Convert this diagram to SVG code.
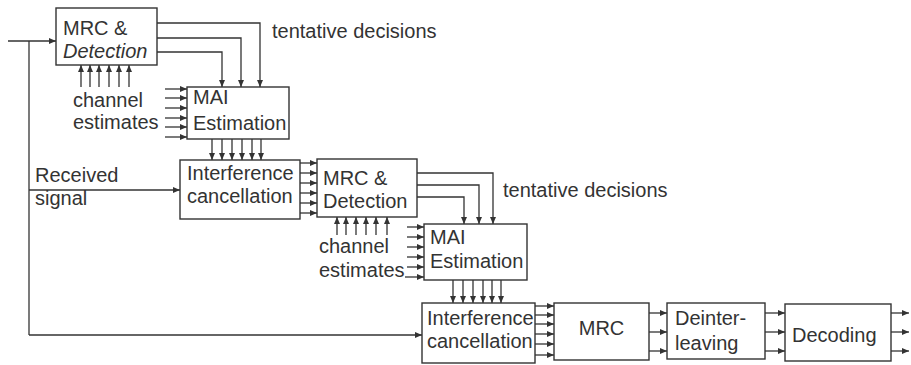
<svg xmlns="http://www.w3.org/2000/svg" width="911" height="365" viewBox="0 0 911 365">
<style>
.box{fill:#fff;stroke:#333;stroke-width:1.4}
.ln{fill:none;stroke:#333;stroke-width:1.3}
.ar{fill:none;stroke:#333;stroke-width:1.3;marker-end:url(#ah)}
text{font-family:"Liberation Sans",Arial,sans-serif;font-size:20px;fill:#333}
</style>
<defs>
<marker id="ah" markerUnits="userSpaceOnUse" markerWidth="8" markerHeight="6" refX="7" refY="3" orient="auto">
<path d="M0,0 L7,3 L0,6 z" fill="#333"/>
</marker>
</defs>
<rect width="911" height="365" fill="#fff"/>
<g id="connectors">
<path class="ar" d="M8,41 H56"/>
<path class="ln" d="M29,41 V335"/>
<path class="ar" d="M29,190 H180"/>
<path class="ar" d="M29,335 H422"/>
<path class="ar" d="M157,23 H260 V87"/>
<path class="ar" d="M157,38 H241 V87"/>
<path class="ar" d="M157,52 H222 V87"/>
<path class="ar" d="M81,87 V65"/><path class="ar" d="M90,87 V65"/><path class="ar" d="M99,87 V65"/><path class="ar" d="M109,87 V65"/><path class="ar" d="M119,87 V65"/><path class="ar" d="M129,87 V65"/>
<path class="ar" d="M165,89 H187"/><path class="ar" d="M165,98 H187"/><path class="ar" d="M165,108 H187"/><path class="ar" d="M165,118 H187"/><path class="ar" d="M165,127 H187"/><path class="ar" d="M165,137 H187"/>
<path class="ar" d="M212,139 V160"/><path class="ar" d="M222,139 V160"/><path class="ar" d="M232,139 V160"/><path class="ar" d="M242,139 V160"/><path class="ar" d="M252,139 V160"/><path class="ar" d="M261,139 V160"/>
<path class="ar" d="M300,163 H317"/><path class="ar" d="M300,173 H317"/><path class="ar" d="M300,183 H317"/><path class="ar" d="M300,193 H317"/><path class="ar" d="M300,203 H317"/><path class="ar" d="M300,213 H317"/>
<path class="ar" d="M417,173 H493 V224"/>
<path class="ar" d="M417,185 H479 V224"/>
<path class="ar" d="M417,197 H464 V224"/>
<path class="ar" d="M337,235 V217"/><path class="ar" d="M346,235 V217"/><path class="ar" d="M356,235 V217"/><path class="ar" d="M366,235 V217"/><path class="ar" d="M376,235 V217"/><path class="ar" d="M387,235 V217"/>
<path class="ar" d="M407,227 H424"/><path class="ar" d="M407,237 H424"/><path class="ar" d="M407,247 H424"/><path class="ar" d="M407,257 H424"/><path class="ar" d="M407,267 H424"/><path class="ar" d="M405,277 H424"/>
<path class="ar" d="M453,280 V303"/><path class="ar" d="M463,280 V303"/><path class="ar" d="M473,280 V303"/><path class="ar" d="M483,280 V303"/><path class="ar" d="M492,280 V303"/><path class="ar" d="M501,280 V303"/>
<path class="ar" d="M535,306 H554"/><path class="ar" d="M535,315 H554"/><path class="ar" d="M535,324 H554"/><path class="ar" d="M535,334 H554"/><path class="ar" d="M535,344 H554"/><path class="ar" d="M535,355 H554"/>
<path class="ar" d="M649,313 H667"/><path class="ar" d="M649,332 H667"/><path class="ar" d="M649,351 H667"/>
<path class="ar" d="M765,313 H785"/><path class="ar" d="M765,332 H785"/><path class="ar" d="M765,351 H785"/>
<path class="ar" d="M891,313 H909"/><path class="ar" d="M891,332 H909"/><path class="ar" d="M891,351 H909"/>
</g>
<g id="labels">
<text x="272" y="38">tentative decisions</text>
<text x="73" y="107">channel</text>
<text x="73" y="129">estimates</text>
<text x="35" y="182">Received</text>
<text x="35" y="205">signal</text>
<text x="503" y="197">tentative decisions</text>
<text x="319" y="253">channel</text>
<text x="319" y="277">estimates</text>
</g>
<g id="mrc-detection-1">
<rect class="box" x="56" y="8" width="101" height="57"/>
<text x="63" y="35">MRC &amp;</text>
<text x="63" y="58" font-style="italic">Detection</text>
</g>
<g id="mai-estimation-1">
<rect class="box" x="187" y="87" width="102" height="52"/>
<text x="193" y="104">MAI</text>
<text x="193" y="130">Estimation</text>
</g>
<g id="interference-cancellation-1">
<rect class="box" x="180" y="160" width="120" height="59"/>
<text x="187" y="180">Interference</text>
<text x="187" y="203">cancellation</text>
</g>
<g id="mrc-detection-2">
<rect class="box" x="317" y="159" width="100" height="58"/>
<text x="323" y="185">MRC &amp;</text>
<text x="323" y="208">Detection</text>
</g>
<g id="mai-estimation-2">
<rect class="box" x="424" y="224" width="103" height="56"/>
<text x="430" y="244">MAI</text>
<text x="430" y="268">Estimation</text>
</g>
<g id="interference-cancellation-2">
<rect class="box" x="422" y="303" width="113" height="60"/>
<text x="427" y="325">Interference</text>
<text x="427" y="348">cancellation</text>
</g>
<g id="mrc">
<rect class="box" x="554" y="303" width="95" height="57"/>
<text x="601.5" y="335" text-anchor="middle">MRC</text>
</g>
<g id="deinterleaving">
<rect class="box" x="667" y="303" width="98" height="56"/>
<text x="675" y="325">Deinter-</text>
<text x="675" y="350">leaving</text>
</g>
<g id="decoding">
<rect class="box" x="785" y="304" width="106" height="57"/>
<text x="792" y="342">Decoding</text>
</g>
</svg>
